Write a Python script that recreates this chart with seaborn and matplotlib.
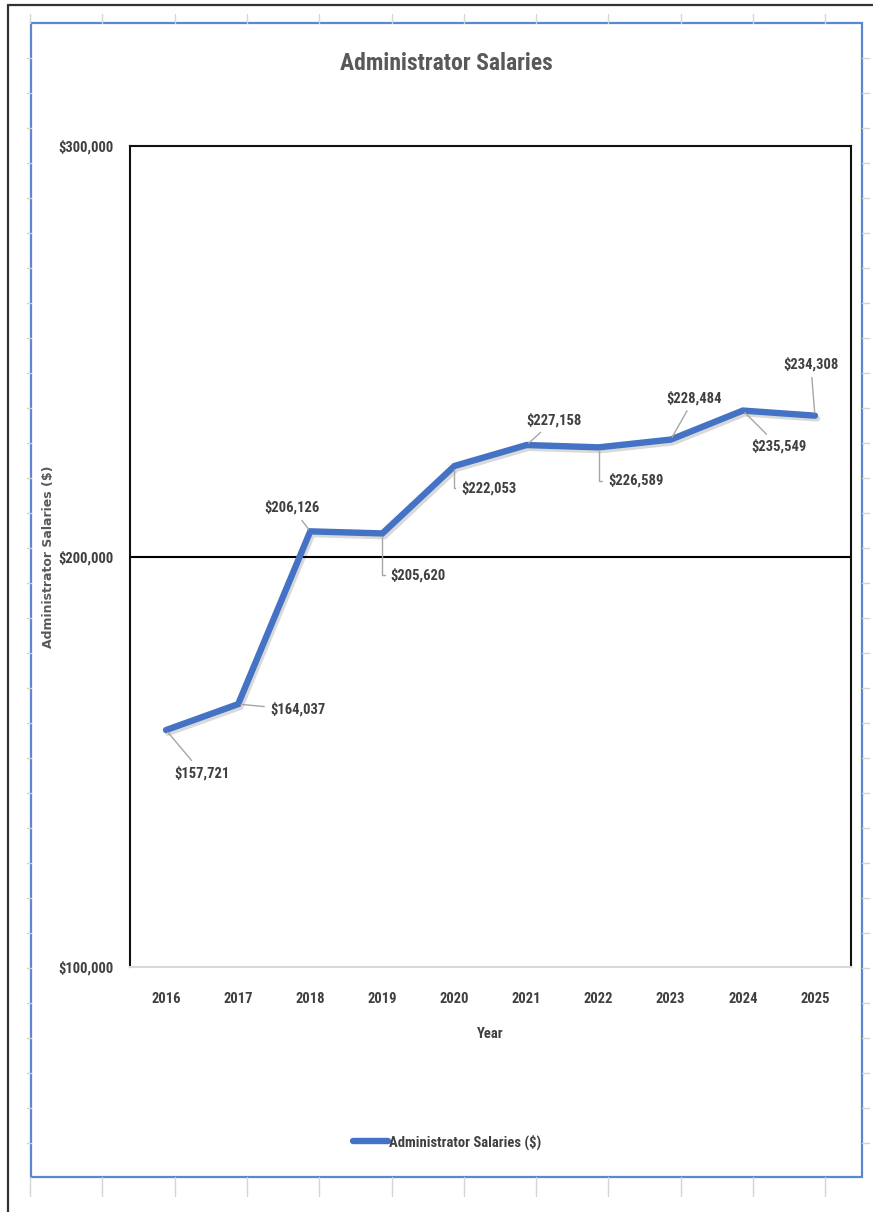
import matplotlib
matplotlib.use("Agg")
import matplotlib.pyplot as plt
from matplotlib import font_manager
from matplotlib.lines import Line2D
from matplotlib.patches import Rectangle
import matplotlib.patheffects as pe
from matplotlib.ticker import FuncFormatter, FixedLocator
import seaborn as sns
import pandas as pd

# ---- data ----
years = ["2016", "2017", "2018", "2019", "2020", "2021", "2022", "2023", "2024", "2025"]
salaries = [157721, 164037, 206126, 205620, 222053, 227158, 226589, 228484, 235549, 234308]
series_name = "Administrator Salaries ($)"

# label offsets (points) for each data label
label_offsets = [(26, -31), (43, -4), (-13, 17), (26, -30), (25, -16),
                 (20, 18), (27, -24), (17, 30), (26, -26), (-3, 37)]
elbow = [False, False, False, True, True, False, True, False, False, False]

sns.set_theme(style="white")

available = {f.name for f in font_manager.fontManager.ttflist}
narrow = next((f for f in ["Liberation Sans Narrow", "Roboto Condensed", "Open Sans Condensed",
                           "DejaVu Sans Condensed", "Liberation Sans"] if f in available), "DejaVu Sans")
plt.rcParams["font.family"] = [narrow, "DejaVu Sans"]

W, H = 873, 1212
fig = plt.figure(figsize=(W / 100, H / 100), dpi=100)
fig.patch.set_facecolor("white")

def fx(px):
    return px / W

def fy(py):
    return 1 - py / H

# spreadsheet cell grid peeking out around the chart frame
grid_col = "#D4D4D4"
for k in range(12):
    x = 30 + 72.3 * k
    fig.add_artist(Line2D([fx(x), fx(x)], [fy(14), fy(23)], color=grid_col, lw=1))
    fig.add_artist(Line2D([fx(x), fx(x)], [fy(1177), fy(1196)], color=grid_col, lw=1))
for k in range(33):
    y = 58 + 35 * k
    if y > 1176:
        break
    fig.add_artist(Line2D([fx(27), fx(31)], [fy(y), fy(y)], color=grid_col, lw=1))
    fig.add_artist(Line2D([fx(862), fx(869)], [fy(y), fy(y)], color=grid_col, lw=1))

# window edge and chart frame
fig.add_artist(Line2D([fx(8), fx(873)], [fy(5), fy(5)], color="#333333", lw=1.6))
fig.add_artist(Line2D([fx(8), fx(8)], [fy(5), fy(1212)], color="#333333", lw=1.6))
fig.add_artist(Rectangle((fx(31), fy(1177)), fx(862) - fx(31), fy(23) - fy(1177),
                         transform=fig.transFigure, fill=False, edgecolor="#5B86D0", lw=1.6))

ax = fig.add_axes([fx(130), fy(967), fx(851) - fx(130), fy(146) - fy(967)])

df = pd.DataFrame({"Year": years, "Salary": salaries})
sns.lineplot(data=df, x="Year", y="Salary", ax=ax, color="#4472C4", linewidth=4.6,
             sort=False, label=series_name,
             path_effects=[pe.SimpleLineShadow(offset=(1.5, -2), shadow_color="#000000", alpha=0.15),
                           pe.Normal()])
ax.lines[0].set_solid_joinstyle("miter")

ax.set_xlim(-0.5, len(years) - 0.5)
ax.set_ylim(100000, 300000)
ax.yaxis.set_major_locator(FixedLocator([100000, 200000, 300000]))
ax.yaxis.set_major_formatter(FuncFormatter(lambda v, p: f"${v:,.0f}"))

txt = "#404040"
ax.tick_params(axis="y", length=0, pad=12, labelsize=10.5, labelcolor=txt)
ax.tick_params(axis="x", length=0, pad=18, labelsize=10.5, labelcolor=txt)
for lab in ax.get_xticklabels() + ax.get_yticklabels():
    lab.set_fontweight("bold")

ax.axhline(200000, color="black", lw=1.5, zorder=1)
for s in ["left", "top", "right"]:
    ax.spines[s].set_color("#111111")
    ax.spines[s].set_linewidth(1.5)
ax.spines["bottom"].set_color("#D9D9D9")
ax.spines["bottom"].set_linewidth(1.5)

ax.set_xlabel("Year", fontsize=10.5, fontweight="bold", color=txt)
ax.xaxis.set_label_coords(0.5, -(1027 - 967) / 821)
ax.set_ylabel(series_name, fontsize=9, fontweight="bold", color="#595959", family="DejaVu Sans")
ax.yaxis.set_label_coords(-(130 - 55) / 721, 0.5)

fig.text(fx(446), fy(63), "Administrator Salaries", ha="center", va="center",
         fontsize=17, fontweight="bold", color="#595959")

# data labels with leader lines
for i, (yr, val) in enumerate(zip(years, salaries)):
    dx, dy = label_offsets[i]
    if elbow[i]:
        conn = "angle,angleA=180,angleB=90,rad=0"
        relpos = (0, 0.5)
    else:
        conn = "arc3"
        relpos = (0.5, 0.5)
    ax.annotate(f"${val:,}", xy=(i, val), xytext=(dx, dy), textcoords="offset points",
                ha="center", va="center", fontsize=10.5, fontweight="bold", color=txt,
                arrowprops=dict(arrowstyle="-", color="#A6A6A6", lw=1, connectionstyle=conn,
                                relpos=relpos, shrinkA=2, shrinkB=2))

ax.get_legend().remove()
handle = Line2D([], [], color="#4472C4", lw=4.6)
fig.legend([handle], [series_name], loc="center", bbox_to_anchor=(fx(447), fy(1142)),
           frameon=False, handlelength=2.4, handletextpad=0.1,
           prop={"size": 10.5, "weight": "bold"}, labelcolor=txt)

fig.savefig("out.png", dpi=100)
